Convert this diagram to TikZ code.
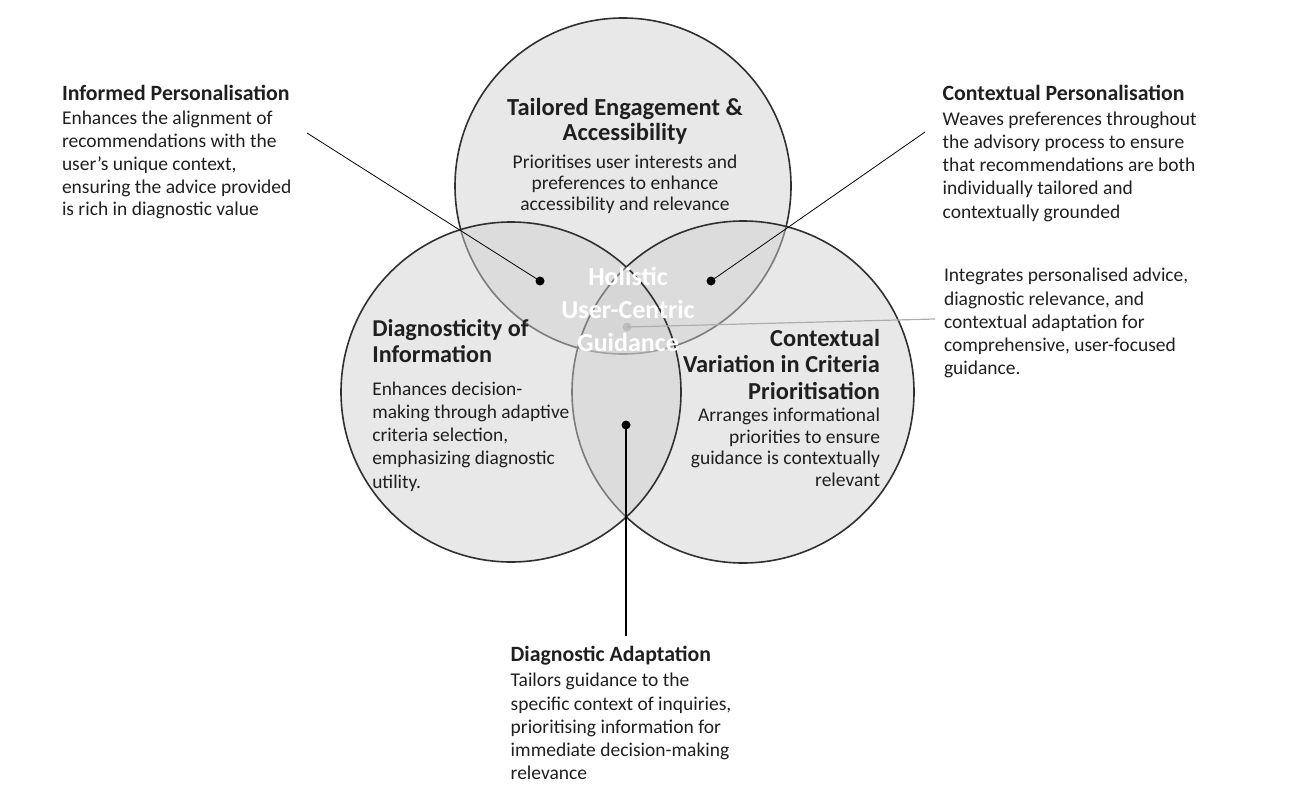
\documentclass[tikz,border=0pt]{standalone}
\usepackage{fontspec}
\setmainfont{Carlito}
\definecolor{cfill}{gray}{0.81}
\definecolor{cline}{gray}{0.19}
\definecolor{txt}{gray}{0.12}
\definecolor{gdot}{gray}{0.74}
\definecolor{gline}{gray}{0.68}
\tikzset{
  venn/.style={draw=cline, line width=1.6pt, fill=cfill, fill opacity=0.48},
  txtnode/.style={inner sep=0pt, outer sep=0pt, text=txt},
  dot/.style={circle, fill=black, inner sep=0pt, minimum size=9pt},
  gdotst/.style={circle, fill=gdot, inner sep=0pt, minimum size=9pt},
  conn/.style={draw=black, line width=0.8pt},
}
\begin{document}
\begin{tikzpicture}[x=1pt,y=-1pt]
\useasboundingbox (0,0) rectangle (1300,800);
% circles: top, right, left
\path[venn] (623,186) circle [radius=168pt];
\path[venn] (743,392) circle [radius=171pt];
\path[venn] (511,392) circle [radius=170pt];

% (base anchor of a multi-line node = baseline of its last line)
% top circle text
\node[txtnode, anchor=base, align=center, font=\bfseries\fontsize{24.5}{25}\selectfont] (th) at (625,140) {Tailored Engagement \&\\Accessibility};
\node[txtnode, anchor=base, align=center, font=\fontsize{19.5}{21.2}\selectfont] (tb) at (625,210.7) {Prioritises user interests and\\preferences to enhance\\accessibility and relevance};

% left circle text
\node[txtnode, anchor=base west, align=left, font=\bfseries\fontsize{24.2}{26.7}\selectfont] (lh) at (372.3,362.7) {Diagnosticity of\\Information};
\node[txtnode, anchor=base west, align=left, font=\fontsize{19.4}{23.3}\selectfont] (lb) at (372.3,488.2) {Enhances decision-\\making through adaptive\\criteria selection,\\emphasizing diagnostic\\utility.};

% right circle text
\node[txtnode, anchor=base east, align=right, font=\bfseries\fontsize{24.4}{26.7}\selectfont] (rh) at (880,399.4) {Contextual\\Variation in Criteria\\Prioritisation};
\node[txtnode, anchor=base east, align=right, font=\fontsize{19.5}{21.5}\selectfont] (rb) at (880,486.2) {Arranges informational\\priorities to ensure\\guidance is contextually\\relevant};

% outer texts
\node[txtnode, anchor=base west, font=\bfseries\fontsize{21.8}{23}\selectfont] (ih) at (62,100.7) {Informed Personalisation};
\node[txtnode, anchor=base west, align=left, font=\fontsize{19.5}{22.9}\selectfont] (ib) at (62,215.9) {Enhances the alignment of\\recommendations with the\\user’s unique context,\\ensuring the advice provided\\is rich in diagnostic value};

\node[txtnode, anchor=base west, font=\bfseries\fontsize{21.8}{23}\selectfont] (ch) at (942.7,100.7) {Contextual Personalisation};
\node[txtnode, anchor=base west, align=left, font=\fontsize{19.5}{23.3}\selectfont] (cb) at (942.7,218.2) {Weaves preferences throughout\\the advisory process to ensure\\that recommendations are both\\individually tailored and\\contextually grounded};

\node[txtnode, anchor=base west, align=left, font=\fontsize{19.5}{23.3}\selectfont] (gb) at (944,374.9) {Integrates personalised advice,\\diagnostic relevance, and\\contextual adaptation for\\comprehensive, user-focused\\guidance.};

\node[txtnode, anchor=base west, font=\bfseries\fontsize{21.8}{23}\selectfont] (ah) at (510.7,661.7) {Diagnostic Adaptation};
\node[txtnode, anchor=base west, align=left, font=\fontsize{19.5}{23.3}\selectfont] (ab) at (510.7,779.9) {Tailors guidance to the\\specific context of inquiries,\\prioritising information for\\immediate decision-making\\relevance};

% dots
\node[dot] (d1) at (540,281) {};
\node[dot] (d2) at (711,281) {};
\node[dot] (d3) at (626,425) {};
\node[gdotst] (d4) at (627,327) {};

% connector ends
\coordinate (e1) at (307,133);
\coordinate (e2) at (925,132);
\coordinate (e3) at (626,636);
\coordinate (e4) at (935,319);

\draw[conn] (e1) -- (d1.center);
\draw[conn] (e2) -- (d2.center);
\draw[draw=black, line width=2pt] (e3) -- (d3.center);
\draw[draw=gline, line width=1.2pt] (e4) -- (d4.center);

% center text
\node[inner sep=0pt, anchor=base, align=center, text=white, font=\bfseries\fontsize{26}{32.7}\selectfont] (hc) at (628,351.1) {Holistic\\User-Centric\\Guidance};
\end{tikzpicture}
\end{document}
